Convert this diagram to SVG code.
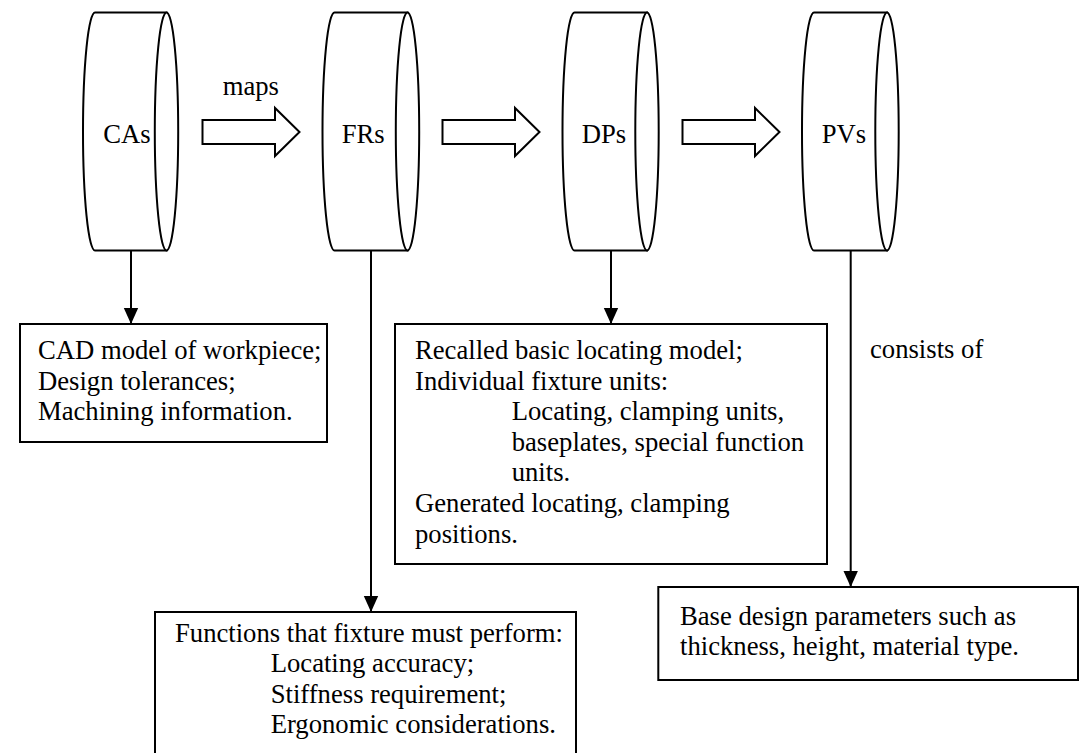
<svg xmlns="http://www.w3.org/2000/svg" width="1081" height="753" viewBox="0 0 1081 753">
  <defs>
    <style>
      .shape { fill: #ffffff; stroke: #000000; stroke-width: 2; }
      .conn { fill: none; stroke: #000000; stroke-width: 2; }
      text { font-family: "Liberation Serif", "Times New Roman", serif; font-size: 26.67px; fill: #000000; }
    </style>
    <marker id="head" markerUnits="userSpaceOnUse" markerWidth="16" markerHeight="16" viewBox="0 0 16 16" refX="16" refY="8" orient="auto">
      <path d="M0,0.8 L16,8 L0,15.2 Z" fill="#000000"/>
    </marker>
  </defs>
  <rect width="1081" height="753" fill="#ffffff"/>

  <!-- cylinders -->
  <g id="cas">
    <path class="shape" d="M166.5,12.5 L95,12.5 A12,119 0 0 0 95,250.5 L166.5,250.5 Z"/>
    <ellipse class="shape" cx="166.5" cy="131.5" rx="11.7" ry="119"/>
    <text x="103.3" y="143">CAs</text>
  </g>
  <g id="frs">
    <path class="shape" d="M407.5,12.5 L334.5,12.5 A12,119 0 0 0 334.5,250.5 L407.5,250.5 Z"/>
    <ellipse class="shape" cx="407.5" cy="131.5" rx="11.7" ry="119"/>
    <text x="341.7" y="143">FRs</text>
  </g>
  <g id="dps">
    <path class="shape" d="M647,12.5 L574.5,12.5 A12,119 0 0 0 574.5,250.5 L647,250.5 Z"/>
    <ellipse class="shape" cx="647" cy="131.5" rx="11.7" ry="119"/>
    <text x="581.7" y="143">DPs</text>
  </g>
  <g id="pvs">
    <path class="shape" d="M887,12.5 L814,12.5 A12,119 0 0 0 814,250.5 L887,250.5 Z"/>
    <ellipse class="shape" cx="887" cy="131.5" rx="11.7" ry="119"/>
    <text x="821.7" y="143">PVs</text>
  </g>

  <!-- detail boxes -->
  <g id="cas-box">
    <rect class="shape" x="20" y="324" width="307" height="118"/>
    <text x="38" y="359">CAD model of workpiece;</text>
    <text x="38" y="389.6">Design tolerances;</text>
    <text x="38" y="420.2">Machining information.</text>
  </g>
  <g id="dps-box">
    <rect class="shape" x="395" y="324" width="432" height="240"/>
    <text x="415" y="359">Recalled basic locating model;</text>
    <text x="415" y="389.6">Individual fixture units:</text>
    <text x="511.7" y="420.2">Locating, clamping units,</text>
    <text x="511.7" y="450.8">baseplates, special function</text>
    <text x="511.7" y="481.4">units.</text>
    <text x="415" y="512">Generated locating, clamping</text>
    <text x="415" y="542.6">positions.</text>
  </g>
  <g id="frs-box">
    <rect class="shape" x="155" y="612" width="421" height="150"/>
    <text x="175" y="642">Functions that fixture must perform:</text>
    <text x="270.7" y="672.3">Locating accuracy;</text>
    <text x="270.7" y="702.6">Stiffness requirement;</text>
    <text x="270.7" y="733">Ergonomic considerations.</text>
  </g>
  <g id="pvs-box">
    <rect class="shape" x="658.3" y="587" width="419.7" height="93"/>
    <text x="680" y="624.5">Base design parameters such as</text>
    <text x="680" y="655">thickness, height, material type.</text>
  </g>

  <!-- connectors -->
  <g id="connectors">
    <polygon class="shape" points="202.5,120 275,120 275,108 299.5,132 275,156 275,144 202.5,144"/>
    <polygon class="shape" points="442.5,120 515,120 515,108 539.5,132 515,156 515,144 442.5,144"/>
    <polygon class="shape" points="682.5,120 755,120 755,108 779.5,132 755,156 755,144 682.5,144"/>
    <text x="222.7" y="95">maps</text>
    <line class="conn" x1="131" y1="250.5" x2="131" y2="324" marker-end="url(#head)"/>
    <line class="conn" x1="371" y1="250.5" x2="371" y2="612" marker-end="url(#head)"/>
    <line class="conn" x1="611" y1="250.5" x2="611" y2="324" marker-end="url(#head)"/>
    <line class="conn" x1="850.7" y1="250.5" x2="850.7" y2="587" marker-end="url(#head)"/>
    <text x="870" y="358">consists of</text>
  </g>
</svg>
